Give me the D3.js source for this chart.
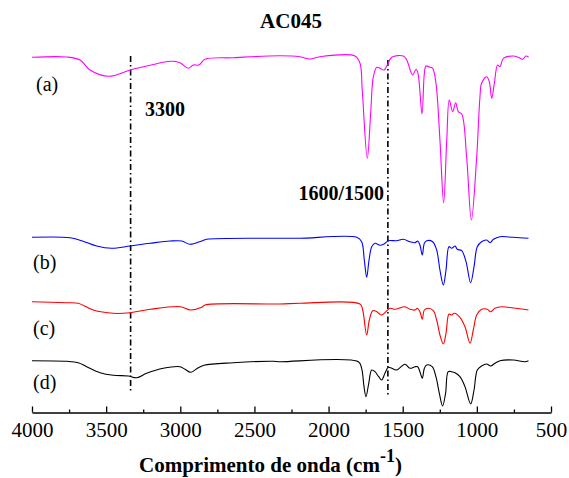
<!DOCTYPE html>
<html lang="pt">
<head>
<meta charset="UTF-8">
<title>AC045</title>
<script src="https://d3js.org/d3.v7.min.js"></script>
<style>
  body { margin: 0; background: #fff; }
  svg { font-family: "Liberation Serif", "Times New Roman", serif; }
  .trace { fill: none; stroke-width: 1.1px; }
  .marker { stroke: #000; stroke-width: 1.6px; stroke-dasharray: 6,3,1.5,3; }
  .axis path, .axis line { stroke: #000; stroke-width: 1.3px; }
  .axis text { font-size: 21px; fill: #000; font-family: "Liberation Serif", "Times New Roman", serif; }
</style>
</head>
<body>
<svg width="569" height="478"></svg>
<script>
// spectra: [wavenumber cm-1, offset intensity (a.u.)]
const traceA = [
  [4000,354.7],[3766,355],[3676,352],[3609,342],[3481,335.7],[3337,342],[3204,346.7],
  [3069,350.7],[3002,349.3],[2946,343.7],[2912,347],[2874,347],[2833,352.7],[2644,354.3],
  [2328,356.3],[2193,355.3],[2125,353],[2058,355.3],[1822,356],[1788,348.7],[1773,322],
  [1739,253.7],[1716,299],[1698,335.3],[1675,344.7],[1653,343.7],[1626,342],[1604,347],
  [1574,354.7],[1496,356],[1473,352],[1433,337],[1410,342.7],[1397,338.7],[1370,298],
  [1354,338.7],[1343,346],[1316,344.7],[1298,343.7],[1276,329],[1249,272],[1224,209],
  [1203,272],[1186,312],[1163,300.3],[1143,309.3],[1125,300.3],[1102,298],[1069,255.3],
  [1037,192],[1001,255.3],[979,315.3],[968,328.7],[934,335.3],[916,330.3],[900,313.7],
  [882,328.7],[860,347],[844,345.3],[821,353.7],[754,356],[721,354.7],[691,352.7],
  [669,356],[651,354.7]
];
const traceB = [
  [4000,174.7],[3744,174.3],[3665,171.3],[3564,166],[3463,163.7],[3339,166],[3204,168.7],
  [3069,171],[2990,171],[2935,167.7],[2856,171],[2822,172.7],[2328,173.7],[2193,173.7],
  [1810,174.7],[1777,170.3],[1759,152],[1743,134.7],[1727,152],[1709,165.3],[1687,168.7],
  [1653,166.7],[1626,168],[1597,171.3],[1541,171.3],[1496,172.7],[1451,170.3],[1417,169.3],
  [1399,171],[1384,167],[1368,157],[1354,168.7],[1338,171.3],[1298,170.3],[1271,162],
  [1249,142],[1226,127],[1208,142],[1188,165.3],[1170,163.7],[1147,166],[1132,162.7],
  [1102,161.3],[1073,150.3],[1042,129.3],[1019,145.3],[997,165.3],[968,170.3],[934,172],
  [911,169.3],[888,172.7],[844,175.3],[754,174.7],[652,173.7]
];
const traceC = [
  [4000,110.3],[3766,109.3],[3688,108.7],[3587,102],[3452,98.7],[3339,99.3],[3204,102.7],
  [3002,105.3],[2930,102],[2856,104.7],[2833,107],[2328,108],[2193,108.7],[1788,108],
  [1770,102],[1743,77],[1725,92],[1702,101.3],[1675,100.3],[1642,97],[1620,99.3],
  [1586,103.7],[1552,102.7],[1485,105.3],[1451,102.7],[1417,102],[1401,103.7],[1384,100.3],
  [1368,92.7],[1354,102],[1327,103.7],[1294,101.3],[1271,92],[1249,77],[1226,68],
  [1208,78.7],[1188,98],[1170,97],[1152,98.7],[1114,94.7],[1080,85.3],[1046,68.7],
  [1024,82],[1001,97],[968,102.7],[930,102.7],[907,100.3],[878,103.7],[833,105.3],
  [754,104],[652,102]
];
const traceD = [
  [4000,51.3],[3766,50.7],[3688,49.3],[3631,45.3],[3541,39.3],[3452,36.7],[3351,36],
  [3294,34.3],[3227,38.7],[3115,43.7],[3002,45.3],[2968,42.7],[2930,39.7],[2889,43.3],
  [2840,46.7],[2642,49.3],[2372,50.7],[2328,50.3],[1799,50.3],[1777,43.7],[1761,25.3],
  [1748,15.3],[1729,28.7],[1709,42],[1687,40.3],[1662,35.3],[1642,32],[1620,38.7],
  [1597,44.7],[1574,43.7],[1541,42],[1485,47.7],[1451,43.7],[1417,45.3],[1399,45.3],
  [1384,40.3],[1368,33.7],[1354,43.7],[1338,47],[1301,45.3],[1276,35.3],[1253,18.7],
  [1231,6],[1211,18.7],[1193,40.3],[1170,40.3],[1147,39.3],[1114,35.3],[1080,25.3],
  [1042,8],[1019,22],[997,42],[968,46],[934,48],[907,46],[878,48.7],[844,51.3],
  [754,52],[675,50.3],[652,51.3]
];
const traceNames = ["(a)", "(b)", "(c)", "(d)"];
const traceColors = ["#ff00ff", "#0000ff", "#ff0000", "#000000"];
const markers = [{ wn: 3335, label: "3300" }, { wn: 1600, label: "1600/1500" }];
const majorTicks = [4000, 3500, 3000, 2500, 2000, 1500, 1000, 500];
const minorTicks = [3750, 3250, 2750, 2250, 1750, 1250, 750];

const svg = d3.select("svg");
const x = d3.scaleLinear().domain([4000, 500]).range([32, 551]);
const y = d3.scaleLinear().domain([0, 360]).range([412, 52]);

// title
svg.append("text")
  .attr("x", 291).attr("y", 28)
  .attr("text-anchor", "middle")
  .attr("font-size", 21).attr("font-weight", "bold")
  .text("AC045");

// dash-dot reference lines
const markerExt = [[356, 19], [352, 15]];
svg.append("g").selectAll("line")
  .data(markers)
  .join("line")
  .attr("class", "marker")
  .attr("x1", d => x(d.wn)).attr("x2", d => x(d.wn))
  .attr("y1", (d, i) => y(markerExt[i][0]))
  .attr("y2", (d, i) => y(markerExt[i][1]));

// spectra
const line = d3.line()
  .x(d => x(d[0])).y(d => y(d[1]))
  .curve(d3.curveCatmullRom.alpha(0.5));

svg.append("g").selectAll("path")
  .data([traceA, traceB, traceC, traceD])
  .join("path")
  .attr("class", "trace")
  .attr("stroke", (d, i) => traceColors[i])
  .attr("d", line);

// trace labels (a)...(d)
const labelPos = [[36, 90.7], [33, 269], [33, 334.7], [33, 389]];
svg.append("g").selectAll("text")
  .data(traceNames)
  .join("text")
  .attr("x", (d, i) => labelPos[i][0])
  .attr("y", (d, i) => labelPos[i][1])
  .attr("font-size", 20)
  .text(d => d);

// marker labels
const markerLabelPos = [[145, 116, "start"], [384, 200, "end"]];
svg.append("g").selectAll("text")
  .data(markers)
  .join("text")
  .attr("x", (d, i) => markerLabelPos[i][0])
  .attr("y", (d, i) => markerLabelPos[i][1])
  .attr("text-anchor", (d, i) => markerLabelPos[i][2])
  .attr("font-size", 20).attr("font-weight", "bold")
  .text(d => d.label);

// x axis with inward ticks
svg.append("g")
  .attr("class", "axis")
  .attr("transform", "translate(0,412.5)")
  .call(d3.axisBottom(x).tickValues(majorTicks).tickSizeInner(-6).tickSizeOuter(0).tickPadding(10)
    .tickFormat(d3.format("d")));

svg.append("g")
  .attr("class", "axis")
  .attr("transform", "translate(0,412.5)")
  .call(d3.axisBottom(x).tickValues(minorTicks).tickSizeInner(-3).tickSizeOuter(0).tickFormat(""))
  .call(g => g.select(".domain").remove());

// axis title
const xt = svg.append("text")
  .attr("x", 139).attr("y", 471.5)
  .attr("font-size", 21).attr("font-weight", "bold");
xt.append("tspan").text("Comprimento de onda (cm");
xt.append("tspan").attr("dy", -10).attr("font-size", 18).text("-1");
xt.append("tspan").attr("dy", 10).text(")");
</script>
</body>
</html>
